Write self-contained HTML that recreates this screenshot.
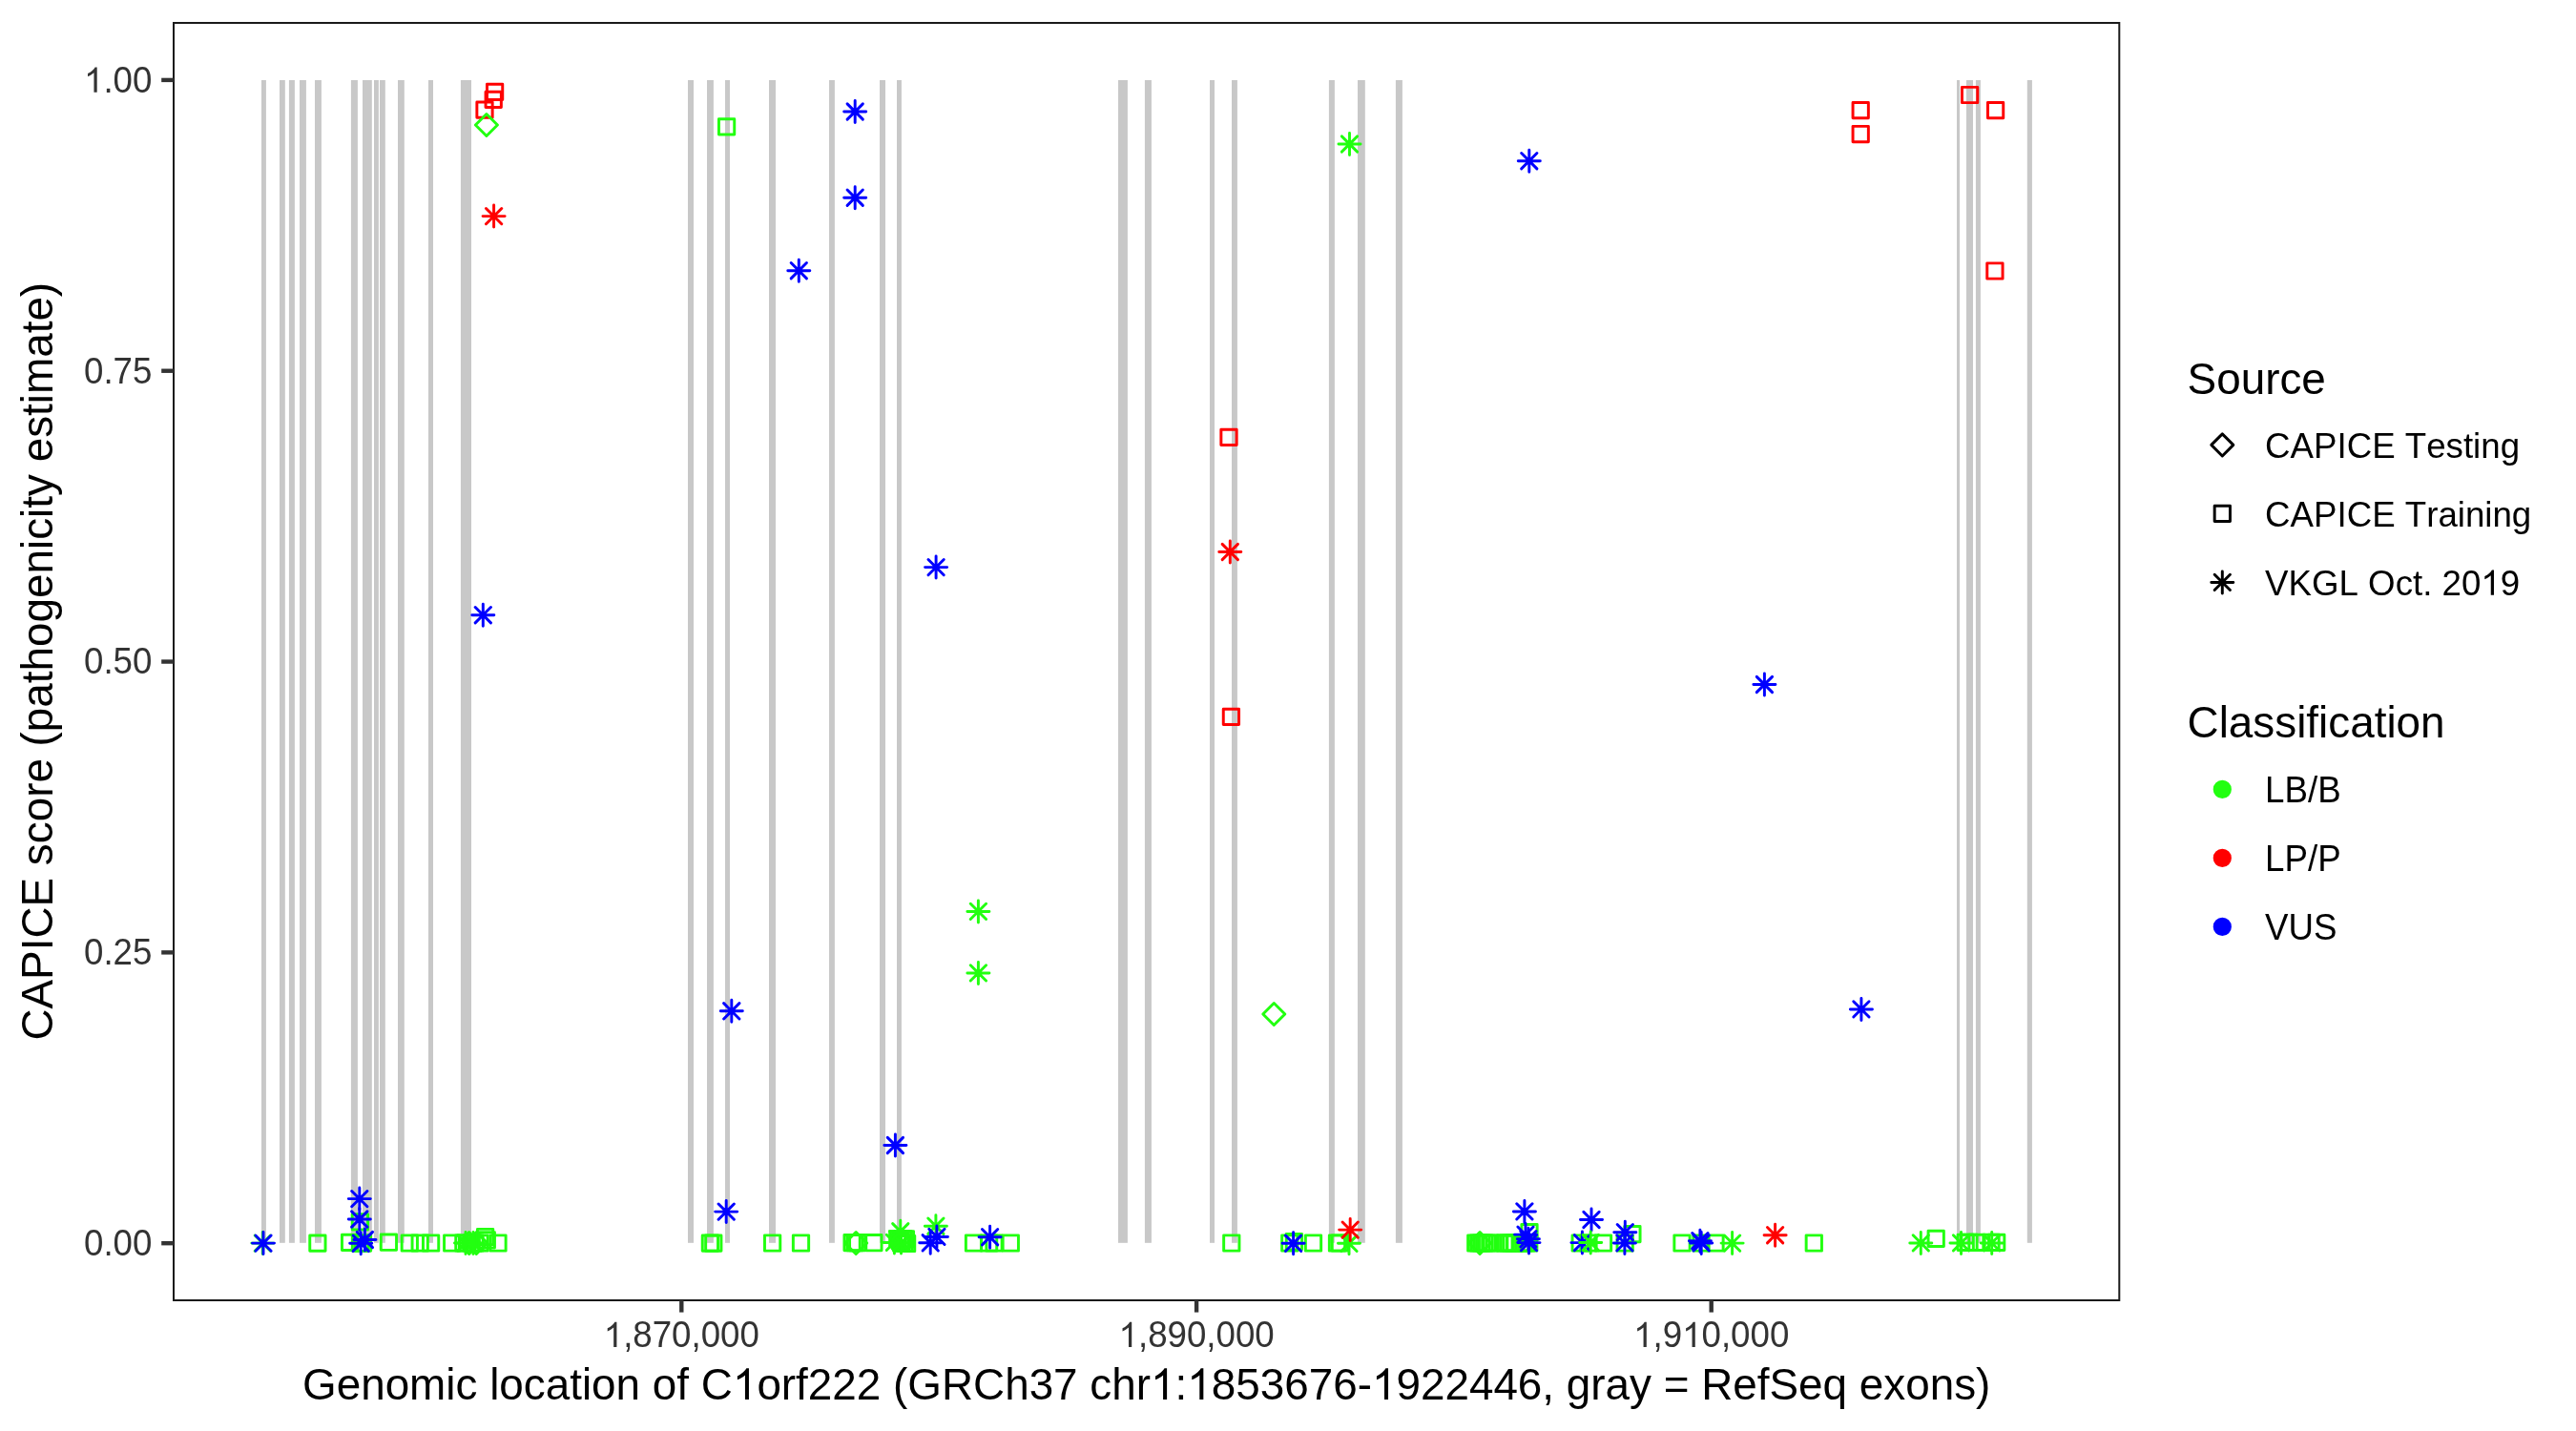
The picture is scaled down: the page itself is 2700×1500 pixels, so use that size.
<!DOCTYPE html>
<html><head><meta charset="utf-8"><title>CAPICE C1orf222</title>
<style>html,body{margin:0;padding:0;background:#fff;}svg{display:block;will-change:transform;}text{font-family:"Liberation Sans",sans-serif;font-kerning:none;}.o1{fill-opacity:0;}</style></head><body>
<svg width="2700" height="1500" viewBox="0 0 2700 1500">
<rect x="0" y="0" width="2700" height="1500" fill="#fff"/>
<g fill="#C8C8C8">
<rect x="274" y="84" width="4.9" height="1218.8"/>
<rect x="293" y="84" width="5.8" height="1218.8"/>
<rect x="302.9" y="84" width="6" height="1218.8"/>
<rect x="314" y="84" width="6.9" height="1218.8"/>
<rect x="330" y="84" width="6.9" height="1218.8"/>
<rect x="367.9" y="84" width="7" height="1218.8"/>
<rect x="380" y="84" width="9.8" height="1218.8"/>
<rect x="392" y="84" width="4.9" height="1218.8"/>
<rect x="398" y="84" width="5.8" height="1218.8"/>
<rect x="417" y="84" width="6.8" height="1218.8"/>
<rect x="449" y="84" width="5" height="1218.8"/>
<rect x="482.9" y="84" width="11.1" height="1218.8"/>
<rect x="721" y="84" width="6" height="1218.8"/>
<rect x="741" y="84" width="6.9" height="1218.8"/>
<rect x="760" y="84" width="5" height="1218.8"/>
<rect x="806" y="84" width="7" height="1218.8"/>
<rect x="869" y="84" width="5.9" height="1218.8"/>
<rect x="922" y="84" width="6" height="1218.8"/>
<rect x="940" y="84" width="4.9" height="1218.8"/>
<rect x="1172" y="84" width="9.9" height="1218.8"/>
<rect x="1199.9" y="84" width="7" height="1218.8"/>
<rect x="1268" y="84" width="5" height="1218.8"/>
<rect x="1291" y="84" width="5.9" height="1218.8"/>
<rect x="1392.9" y="84" width="6" height="1218.8"/>
<rect x="1423" y="84" width="7.8" height="1218.8"/>
<rect x="1462.9" y="84" width="7" height="1218.8"/>
<rect x="2051" y="84" width="3" height="1218.8"/>
<rect x="2061" y="84" width="7" height="1218.8"/>
<rect x="2070.9" y="84" width="5" height="1218.8"/>
<rect x="2124.8" y="84" width="5.1" height="1218.8"/>
</g>
<g fill="none" stroke-width="2.95" stroke-linecap="round" stroke-linejoin="round">
<path d="M267.16 1294.95L283.44 1311.24M267.16 1311.24L283.44 1294.95M263.78 1303.1H286.82M275.3 1291.58V1314.62" stroke="#22FF10"/>
<path d="M324.75 1294.95H341.04V1311.24H324.75Z" stroke="#22FF10"/>
<path d="M358.46 1294.15H374.75V1310.44H358.46Z" stroke="#22FF10"/>
<path d="M369.25 1272.65H385.54V1288.94H369.25Z" stroke="#22FF10"/>
<path d="M369.36 1295.06H385.64V1311.35H369.36Z" stroke="#22FF10"/>
<path d="M372.36 1295.06H388.64V1311.35H372.36Z" stroke="#22FF10"/>
<path d="M399.25 1294.06H415.54V1310.35H399.25Z" stroke="#22FF10"/>
<path d="M421.16 1294.86H437.44V1311.14H421.16Z" stroke="#22FF10"/>
<path d="M432.06 1294.86H448.34V1311.14H432.06Z" stroke="#22FF10"/>
<path d="M443.46 1294.86H459.75V1311.14H443.46Z" stroke="#22FF10"/>
<path d="M465.56 1294.86H481.84V1311.14H465.56Z" stroke="#22FF10"/>
<path d="M477.75 1294.86H494.04V1311.14H477.75Z" stroke="#22FF10"/>
<path d="M481.36 1294.86H497.64V1311.14H481.36Z" stroke="#22FF10"/>
<path d="M485.86 1294.86H502.14V1311.14H485.86Z" stroke="#22FF10"/>
<path d="M489.86 1294.86H506.14V1311.14H489.86Z" stroke="#22FF10"/>
<path d="M494.86 1294.86H511.14V1311.14H494.86Z" stroke="#22FF10"/>
<path d="M480.18 1303L491.7 1291.48L503.22 1303L491.7 1314.52Z" stroke="#22FF10"/>
<path d="M487.78 1303L499.3 1291.48L510.82 1303L499.3 1314.52Z" stroke="#22FF10"/>
<path d="M479.86 1294.86L496.14 1311.14M479.86 1311.14L496.14 1294.86M476.48 1303H499.52M488 1291.48V1314.52" stroke="#22FF10"/>
<path d="M487.86 1294.86L504.14 1311.14M487.86 1311.14L504.14 1294.86M484.48 1303H507.52M496 1291.48V1314.52" stroke="#22FF10"/>
<path d="M500.46 1288.36H516.75V1304.64H500.46Z" stroke="#22FF10"/>
<path d="M502.16 1291.65H518.45V1307.94H502.16Z" stroke="#22FF10"/>
<path d="M513.86 1294.86H530.14V1311.14H513.86Z" stroke="#22FF10"/>
<path d="M753.46 124.66H769.75V140.95H753.46Z" stroke="#22FF10"/>
<path d="M736.25 1294.95H752.54V1311.24H736.25Z" stroke="#22FF10"/>
<path d="M739.65 1294.95H755.94V1311.24H739.65Z" stroke="#22FF10"/>
<path d="M801.46 1294.86H817.75V1311.14H801.46Z" stroke="#22FF10"/>
<path d="M831.36 1294.86H847.64V1311.14H831.36Z" stroke="#22FF10"/>
<path d="M884.96 1294.56H901.25V1310.85H884.96Z" stroke="#22FF10"/>
<path d="M890.56 1294.56H906.85V1310.85H890.56Z" stroke="#22FF10"/>
<path d="M887.86 1294.56H904.14V1310.85H887.86Z" stroke="#22FF10"/>
<path d="M885.68 1303L897.2 1291.48L908.72 1303L897.2 1314.52Z" stroke="#22FF10"/>
<path d="M907.75 1294.56H924.04V1310.85H907.75Z" stroke="#22FF10"/>
<path d="M932.65 1290.65H948.94V1306.94H932.65Z" stroke="#22FF10"/>
<path d="M941.25 1290.65H957.54V1306.94H941.25Z" stroke="#22FF10"/>
<path d="M942.46 1295.36H958.75V1311.64H942.46Z" stroke="#22FF10"/>
<path d="M936.86 1294.95H953.14V1311.24H936.86Z" stroke="#22FF10"/>
<path d="M935.36 1292.86H951.64V1309.14H935.36Z" stroke="#22FF10"/>
<path d="M938.36 1290.86H954.64V1307.14H938.36Z" stroke="#22FF10"/>
<path d="M939.86 1294.95H956.14V1311.24H939.86Z" stroke="#22FF10"/>
<path d="M929.25 1294.26L945.54 1310.55M929.25 1310.55L945.54 1294.26M925.88 1302.4H948.92M937.4 1290.88V1313.92" stroke="#22FF10"/>
<path d="M936.36 1294.45L952.64 1310.74M936.36 1310.74L952.64 1294.45M932.98 1302.6H956.02M944.5 1291.08V1314.12" stroke="#22FF10"/>
<path d="M935.65 1282.65L951.94 1298.94M935.65 1298.94L951.94 1282.65M932.28 1290.8H955.32M943.8 1279.28V1302.32" stroke="#22FF10"/>
<path d="M972.75 1277.06L989.04 1293.35M972.75 1293.35L989.04 1277.06M969.38 1285.2H992.42M980.9 1273.68V1296.72" stroke="#22FF10"/>
<path d="M1017.26 947.25L1033.55 963.54M1017.26 963.54L1033.55 947.25M1013.88 955.4H1036.92M1025.4 943.88V966.92" stroke="#22FF10"/>
<path d="M1017.26 1011.75L1033.55 1028.05M1017.26 1028.05L1033.55 1011.75M1013.88 1019.9H1036.92M1025.4 1008.38V1031.42" stroke="#22FF10"/>
<path d="M1012.36 1294.86H1028.64V1311.14H1012.36Z" stroke="#22FF10"/>
<path d="M1028.45 1294.86H1044.74V1311.14H1028.45Z" stroke="#22FF10"/>
<path d="M1033.86 1294.86H1050.14V1311.14H1033.86Z" stroke="#22FF10"/>
<path d="M1051.15 1294.86H1067.44V1311.14H1051.15Z" stroke="#22FF10"/>
<path d="M1282.65 1294.86H1298.94V1311.14H1282.65Z" stroke="#22FF10"/>
<path d="M1323.78 1063L1335.3 1051.48L1346.82 1063L1335.3 1074.52Z" stroke="#22FF10"/>
<path d="M1343.65 1294.86H1359.94V1311.14H1343.65Z" stroke="#22FF10"/>
<path d="M1348.26 1293.56H1364.55V1309.85H1348.26Z" stroke="#22FF10"/>
<path d="M1368.36 1294.86H1384.64V1311.14H1368.36Z" stroke="#22FF10"/>
<path d="M1396.26 1294.86H1412.55V1311.14H1396.26Z" stroke="#22FF10"/>
<path d="M1393.36 1294.86H1409.64V1311.14H1393.36Z" stroke="#22FF10"/>
<path d="M1405.86 1295.15L1422.14 1311.44M1405.86 1311.44L1422.14 1295.15M1402.48 1303.3H1425.52M1414 1291.78V1314.82" stroke="#22FF10"/>
<path d="M1406.36 142.85L1422.64 159.15M1406.36 159.15L1422.64 142.85M1402.98 151H1426.02M1414.5 139.48V162.52" stroke="#22FF10"/>
<path d="M1538.65 1294.86H1554.94V1311.14H1538.65Z" stroke="#22FF10"/>
<path d="M1541.61 1294.86H1557.89V1311.14H1541.61Z" stroke="#22FF10"/>
<path d="M1544.56 1294.86H1560.85V1311.14H1544.56Z" stroke="#22FF10"/>
<path d="M1547.51 1294.86H1563.8V1311.14H1547.51Z" stroke="#22FF10"/>
<path d="M1550.45 1294.86H1566.74V1311.14H1550.45Z" stroke="#22FF10"/>
<path d="M1553.65 1294.86H1569.94V1311.14H1553.65Z" stroke="#22FF10"/>
<path d="M1568.76 1294.86H1585.05V1311.14H1568.76Z" stroke="#22FF10"/>
<path d="M1569.65 1294.86H1585.94V1311.14H1569.65Z" stroke="#22FF10"/>
<path d="M1572.61 1294.86H1588.89V1311.14H1572.61Z" stroke="#22FF10"/>
<path d="M1575.56 1294.86H1591.85V1311.14H1575.56Z" stroke="#22FF10"/>
<path d="M1579.06 1294.86H1595.35V1311.14H1579.06Z" stroke="#22FF10"/>
<path d="M1579.86 1294.86H1596.14V1311.14H1579.86Z" stroke="#22FF10"/>
<path d="M1585.76 1294.86H1602.05V1311.14H1585.76Z" stroke="#22FF10"/>
<path d="M1588.7 1294.86H1604.99V1311.14H1588.7Z" stroke="#22FF10"/>
<path d="M1591.65 1294.86H1607.94V1311.14H1591.65Z" stroke="#22FF10"/>
<path d="M1594.61 1294.86H1610.89V1311.14H1594.61Z" stroke="#22FF10"/>
<path d="M1539.58 1303L1551.1 1291.48L1562.62 1303L1551.1 1314.52Z" stroke="#22FF10"/>
<path d="M1594.86 1283.56H1611.14V1299.85H1594.86Z" stroke="#22FF10"/>
<path d="M1648.06 1294.86H1664.35V1311.14H1648.06Z" stroke="#22FF10"/>
<path d="M1656.86 1294.86H1673.14V1311.14H1656.86Z" stroke="#22FF10"/>
<path d="M1672.36 1294.86H1688.64V1311.14H1672.36Z" stroke="#22FF10"/>
<path d="M1695.06 1294.86H1711.35V1311.14H1695.06Z" stroke="#22FF10"/>
<path d="M1702.76 1285.45H1719.05V1301.74H1702.76Z" stroke="#22FF10"/>
<path d="M1754.86 1294.86H1771.14V1311.14H1754.86Z" stroke="#22FF10"/>
<path d="M1774.86 1294.86H1791.14V1311.14H1774.86Z" stroke="#22FF10"/>
<path d="M1789.86 1294.86H1806.14V1311.14H1789.86Z" stroke="#22FF10"/>
<path d="M1807.45 1294.95L1823.74 1311.24M1807.45 1311.24L1823.74 1294.95M1804.08 1303.1H1827.12M1815.6 1291.58V1314.62" stroke="#22FF10"/>
<path d="M1893.15 1294.86H1909.44V1311.14H1893.15Z" stroke="#22FF10"/>
<path d="M2005.15 1294.76L2021.44 1311.05M2005.15 1311.05L2021.44 1294.76M2001.78 1302.9H2024.82M2013.3 1291.38V1314.42" stroke="#22FF10"/>
<path d="M2021.06 1290.26H2037.35V1306.55H2021.06Z" stroke="#22FF10"/>
<path d="M2047.36 1294.76L2063.64 1311.05M2047.36 1311.05L2063.64 1294.76M2043.98 1302.9H2067.02M2055.5 1291.38V1314.42" stroke="#22FF10"/>
<path d="M2052.05 1294.15H2068.34V1310.44H2052.05Z" stroke="#22FF10"/>
<path d="M2055.86 1294.15H2072.14V1310.44H2055.86Z" stroke="#22FF10"/>
<path d="M2063.86 1294.15H2080.14V1310.44H2063.86Z" stroke="#22FF10"/>
<path d="M2078.86 1294.15H2095.14V1310.44H2078.86Z" stroke="#22FF10"/>
<path d="M2084.55 1294.15H2100.84V1310.44H2084.55Z" stroke="#22FF10"/>
<path d="M2079.55 1294.76L2095.84 1311.05M2079.55 1311.05L2095.84 1294.76M2076.18 1302.9H2099.22M2087.7 1291.38V1314.42" stroke="#22FF10"/>
<path d="M499.86 107.06H516.14V123.34H499.86Z" stroke="#FF0000"/>
<path d="M509.06 96.26H525.35V112.55H509.06Z" stroke="#FF0000"/>
<path d="M510.46 88.16H526.75V104.44H510.46Z" stroke="#FF0000"/>
<path d="M509.46 218.45L525.75 234.75M509.46 234.75L525.75 218.45M506.08 226.6H529.12M517.6 215.08V238.12" stroke="#FF0000"/>
<path d="M1279.86 450.16H1296.14V466.44H1279.86Z" stroke="#FF0000"/>
<path d="M1281.15 570.36L1297.44 586.64M1281.15 586.64L1297.44 570.36M1277.78 578.5H1300.82M1289.3 566.98V590.02" stroke="#FF0000"/>
<path d="M1282.26 743.25H1298.55V759.54H1282.26Z" stroke="#FF0000"/>
<path d="M1407.06 1280.95L1423.35 1297.24M1407.06 1297.24L1423.35 1280.95M1403.68 1289.1H1426.72M1415.2 1277.58V1300.62" stroke="#FF0000"/>
<path d="M1852.45 1286.56L1868.74 1302.85M1852.45 1302.85L1868.74 1286.56M1849.08 1294.7H1872.12M1860.6 1283.18V1306.22" stroke="#FF0000"/>
<path d="M1942.06 107.56H1958.35V123.84H1942.06Z" stroke="#FF0000"/>
<path d="M1942.06 132.35H1958.35V148.65H1942.06Z" stroke="#FF0000"/>
<path d="M2056.45 91.36H2072.74V107.64H2056.45Z" stroke="#FF0000"/>
<path d="M2083.45 107.56H2099.74V123.84H2083.45Z" stroke="#FF0000"/>
<path d="M2082.76 275.86H2099.05V292.14H2082.76Z" stroke="#FF0000"/>
<path d="M267.86 1294.95L284.14 1311.24M267.86 1311.24L284.14 1294.95M264.48 1303.1H287.52M276 1291.58V1314.62" stroke="#0000FF"/>
<path d="M368.66 1248.45L384.94 1264.74M368.66 1264.74L384.94 1248.45M365.28 1256.6H388.32M376.8 1245.08V1268.12" stroke="#0000FF"/>
<path d="M368.66 1269.86L384.94 1286.14M368.66 1286.14L384.94 1269.86M365.28 1278H388.32M376.8 1266.48V1289.52" stroke="#0000FF"/>
<path d="M370.06 1295.06L386.34 1311.35M370.06 1311.35L386.34 1295.06M366.68 1303.2H389.72M378.2 1291.68V1314.72" stroke="#0000FF"/>
<path d="M374.25 1291.36L390.54 1307.64M374.25 1307.64L390.54 1291.36M370.88 1299.5H393.92M382.4 1287.98V1311.02" stroke="#0000FF"/>
<path d="M498.16 636.56L514.45 652.85M498.16 652.85L514.45 636.56M494.78 644.7H517.82M506.3 633.18V656.22" stroke="#0000FF"/>
<path d="M758.65 1051.65L774.94 1067.94M758.65 1067.94L774.94 1051.65M755.28 1059.8H778.32M766.8 1048.28V1071.32" stroke="#0000FF"/>
<path d="M753.06 1261.95L769.35 1278.24M753.06 1278.24L769.35 1261.95M749.68 1270.1H772.72M761.2 1258.58V1281.62" stroke="#0000FF"/>
<path d="M829.15 275.56L845.44 291.84M829.15 291.84L845.44 275.56M825.78 283.7H848.82M837.3 272.18V295.22" stroke="#0000FF"/>
<path d="M888.06 108.86L904.35 125.14M888.06 125.14L904.35 108.86M884.68 117H907.72M896.2 105.48V128.52" stroke="#0000FF"/>
<path d="M888.06 199.05L904.35 215.34M888.06 215.34L904.35 199.05M884.68 207.2H907.72M896.2 195.68V218.72" stroke="#0000FF"/>
<path d="M972.96 586.46L989.25 602.75M972.96 602.75L989.25 586.46M969.58 594.6H992.62M981.1 583.08V606.12" stroke="#0000FF"/>
<path d="M930.25 1192.36L946.54 1208.64M930.25 1208.64L946.54 1192.36M926.88 1200.5H949.92M938.4 1188.98V1212.02" stroke="#0000FF"/>
<path d="M973.75 1288.26L990.04 1304.55M973.75 1304.55L990.04 1288.26M970.38 1296.4H993.42M981.9 1284.88V1307.92" stroke="#0000FF"/>
<path d="M967.06 1294.65L983.35 1310.94M967.06 1310.94L983.35 1294.65M963.68 1302.8H986.72M975.2 1291.28V1314.32" stroke="#0000FF"/>
<path d="M1029.45 1288.56L1045.74 1304.85M1029.45 1304.85L1045.74 1288.56M1026.08 1296.7H1049.12M1037.6 1285.18V1308.22" stroke="#0000FF"/>
<path d="M1347.45 1295.15L1363.74 1311.44M1347.45 1311.44L1363.74 1295.15M1344.08 1303.3H1367.12M1355.6 1291.78V1314.82" stroke="#0000FF"/>
<path d="M1594.65 160.55L1610.94 176.84M1594.65 176.84L1610.94 160.55M1591.28 168.7H1614.32M1602.8 157.18V180.22" stroke="#0000FF"/>
<path d="M1589.76 1261.76L1606.05 1278.05M1589.76 1278.05L1606.05 1261.76M1586.38 1269.9H1609.42M1597.9 1258.38V1281.42" stroke="#0000FF"/>
<path d="M1590.86 1285.95L1607.14 1302.24M1590.86 1302.24L1607.14 1285.95M1587.48 1294.1H1610.52M1599 1282.58V1305.62" stroke="#0000FF"/>
<path d="M1593.76 1290.65L1610.05 1306.94M1593.76 1306.94L1610.05 1290.65M1590.38 1298.8H1613.42M1601.9 1287.28V1310.32" stroke="#0000FF"/>
<path d="M1594.36 1294.45L1610.64 1310.74M1594.36 1310.74L1610.64 1294.45M1590.98 1302.6H1614.02M1602.5 1291.08V1314.12" stroke="#0000FF"/>
<path d="M1650.26 1294.45L1666.55 1310.74M1650.26 1310.74L1666.55 1294.45M1646.88 1302.6H1669.92M1658.4 1291.08V1314.12" stroke="#0000FF"/>
<path d="M1659.86 1270.36L1676.14 1286.64M1659.86 1286.64L1676.14 1270.36M1656.48 1278.5H1679.52M1668 1266.98V1290.02" stroke="#0000FF"/>
<path d="M1695.15 1283.56L1711.44 1299.85M1695.15 1299.85L1711.44 1283.56M1691.78 1291.7H1714.82M1703.3 1280.18V1303.22" stroke="#0000FF"/>
<path d="M1694.76 1294.76L1711.05 1311.05M1694.76 1311.05L1711.05 1294.76M1691.38 1302.9H1714.42M1702.9 1291.38V1314.42" stroke="#0000FF"/>
<path d="M1773.76 1292.56L1790.05 1308.85M1773.76 1308.85L1790.05 1292.56M1770.38 1300.7H1793.42M1781.9 1289.18V1312.22" stroke="#0000FF"/>
<path d="M1775.06 1294.76L1791.35 1311.05M1775.06 1311.05L1791.35 1294.76M1771.68 1302.9H1794.72M1783.2 1291.38V1314.42" stroke="#0000FF"/>
<path d="M1841.26 709.36L1857.55 725.64M1841.26 725.64L1857.55 709.36M1837.88 717.5H1860.92M1849.4 705.98V729.02" stroke="#0000FF"/>
<path d="M1942.76 1049.76L1959.05 1066.05M1942.76 1066.05L1959.05 1049.76M1939.38 1057.9H1962.42M1950.9 1046.38V1069.42" stroke="#0000FF"/>
<path d="M498.38 131L509.9 119.48L521.42 131L509.9 142.52Z" stroke="#22FF10"/>
<path d="M1659.06 1294.36L1675.35 1310.64M1659.06 1310.64L1675.35 1294.36M1655.68 1302.5H1678.72M1667.2 1290.98V1314.02" stroke="#22FF10"/>
</g>
<rect x="182" y="24" width="2039.3" height="1339" fill="none" stroke="#1A1A1A" stroke-width="2"/>
<g stroke="#333333" stroke-width="4.4">
<line x1="169.2" y1="83.9" x2="182" y2="83.9"/>
<line x1="169.2" y1="388.73" x2="182" y2="388.73"/>
<line x1="169.2" y1="693.55" x2="182" y2="693.55"/>
<line x1="169.2" y1="998.38" x2="182" y2="998.38"/>
<line x1="169.2" y1="1303.2" x2="182" y2="1303.2"/>
<line x1="714.3" y1="1363" x2="714.3" y2="1375.6"/>
<line x1="1254.1" y1="1363" x2="1254.1" y2="1375.6"/>
<line x1="1793.7" y1="1363" x2="1793.7" y2="1375.6"/>
</g>
<g fill="#333333" font-size="36.67px" text-anchor="end">
<text transform="translate(159.4 96.8) scale(1 1.04)"><tspan class="o1">1</tspan>.00</text>
<text transform="translate(159.4 401.63) scale(1 1.04)">0.75</text>
<text transform="translate(159.4 706.45) scale(1 1.04)">0.50</text>
<text transform="translate(159.4 1011.27) scale(1 1.04)">0.25</text>
<text transform="translate(159.4 1316.1) scale(1 1.04)">0.00</text>
</g>
<g fill="#333333" font-size="36.67px" text-anchor="middle">
<text transform="translate(714.3 1412.1) scale(1 1.04)"><tspan class="o1">1</tspan>,870,000</text>
<text transform="translate(1254.1 1412.1) scale(1 1.04)"><tspan class="o1">1</tspan>,890,000</text>
<text transform="translate(1793.7 1412.1) scale(1 1.04)"><tspan class="o1">1</tspan>,9<tspan class="o1">1</tspan>0,000</text>
</g>
<text x="1201.7" y="1467.1" font-size="45.83px" text-anchor="middle" fill="#000">Genomic location of C<tspan class="o1">1</tspan>orf222 (GRCh37 chr<tspan class="o1">1</tspan>:<tspan class="o1">1</tspan>853676-<tspan class="o1">1</tspan>922446, gray = RefSeq exons)</text>
<text transform="translate(55.2 693.2) rotate(-90)" x="0" y="0" font-size="45.83px" text-anchor="middle" fill="#000">CAPICE score (pathogenicity estimate)</text>
<g fill="#000" font-size="45.83px">
<text x="2292.6" y="412.5">Source</text>
<text x="2292.6" y="773.1">Classification</text>
</g>
<g fill="#000" font-size="36.67px">
<text transform="translate(2374.1 479.8) scale(1 1.03)">CAPICE Testing</text>
<text transform="translate(2374.1 551.8) scale(1 1.03)">CAPICE Training</text>
<text transform="translate(2374.1 623.8) scale(1 1.03)">VKGL Oct. 20<tspan class="o1">1</tspan>9</text>
<text transform="translate(2374.1 840.8) scale(1 1.04)">LB/B</text>
<text transform="translate(2374.1 912.8) scale(1 1.04)">LP/P</text>
<text transform="translate(2374.1 984.8) scale(1 1.04)">VUS</text>
</g>
<g fill="none" stroke="#000" stroke-width="2.95" stroke-linecap="round" stroke-linejoin="round">
<path d="M2317.78 466.4L2329.3 454.88L2340.82 466.4L2329.3 477.92Z"/>
<path d="M2321.16 530.25H2337.45V546.54H2321.16Z"/>
<path d="M2321.16 602.25L2337.45 618.54M2321.16 618.54L2337.45 602.25M2317.78 610.4H2340.82M2329.3 598.88V621.92"/>
</g>
<circle cx="2329.3" cy="827.4" r="8.14" fill="#22FF10" stroke="#22FF10" stroke-width="2.95"/>
<circle cx="2329.3" cy="899.4" r="8.14" fill="#FF0000" stroke="#FF0000" stroke-width="2.95"/>
<circle cx="2329.3" cy="971.4" r="8.14" fill="#0000FF" stroke="#0000FF" stroke-width="2.95"/>
<path transform="translate(88.03 96.8) scale(0.017905 -0.017905)" fill="rgb(51, 51, 51)" d="M763 0H583V1147Q518 1085 412.5 1023Q307 961 223 930V1104Q374 1175 487 1276Q600 1377 647 1472H763Z"/>
<path transform="translate(632.74 1412.1) scale(0.017905 -0.017905)" fill="rgb(51, 51, 51)" d="M763 0H583V1147Q518 1085 412.5 1023Q307 961 223 930V1104Q374 1175 487 1276Q600 1377 647 1472H763Z"/>
<path transform="translate(1172.54 1412.1) scale(0.017905 -0.017905)" fill="rgb(51, 51, 51)" d="M763 0H583V1147Q518 1085 412.5 1023Q307 961 223 930V1104Q374 1175 487 1276Q600 1377 647 1472H763Z"/>
<path transform="translate(1712.13 1412.1) scale(0.017905 -0.017905)" fill="rgb(51, 51, 51)" d="M763 0H583V1147Q518 1085 412.5 1023Q307 961 223 930V1104Q374 1175 487 1276Q600 1377 647 1472H763Z"/>
<path transform="translate(1763.11 1412.1) scale(0.017905 -0.017905)" fill="rgb(51, 51, 51)" d="M763 0H583V1147Q518 1085 412.5 1023Q307 961 223 930V1104Q374 1175 487 1276Q600 1377 647 1472H763Z"/>
<path transform="translate(767.89 1467.1) scale(0.022378 -0.022378)" fill="rgb(0, 0, 0)" d="M763 0H583V1147Q518 1085 412.5 1023Q307 961 223 930V1104Q374 1175 487 1276Q600 1377 647 1472H763Z"/>
<path transform="translate(1206.03 1467.1) scale(0.022378 -0.022378)" fill="rgb(0, 0, 0)" d="M763 0H583V1147Q518 1085 412.5 1023Q307 961 223 930V1104Q374 1175 487 1276Q600 1377 647 1472H763Z"/>
<path transform="translate(1244.26 1467.1) scale(0.022378 -0.022378)" fill="rgb(0, 0, 0)" d="M763 0H583V1147Q518 1085 412.5 1023Q307 961 223 930V1104Q374 1175 487 1276Q600 1377 647 1472H763Z"/>
<path transform="translate(1437.95 1467.1) scale(0.022378 -0.022378)" fill="rgb(0, 0, 0)" d="M763 0H583V1147Q518 1085 412.5 1023Q307 961 223 930V1104Q374 1175 487 1276Q600 1377 647 1472H763Z"/>
<path transform="translate(2600.31 623.8) scale(0.017905 -0.017905)" fill="rgb(0, 0, 0)" d="M763 0H583V1147Q518 1085 412.5 1023Q307 961 223 930V1104Q374 1175 487 1276Q600 1377 647 1472H763Z"/>
</svg></body></html>
